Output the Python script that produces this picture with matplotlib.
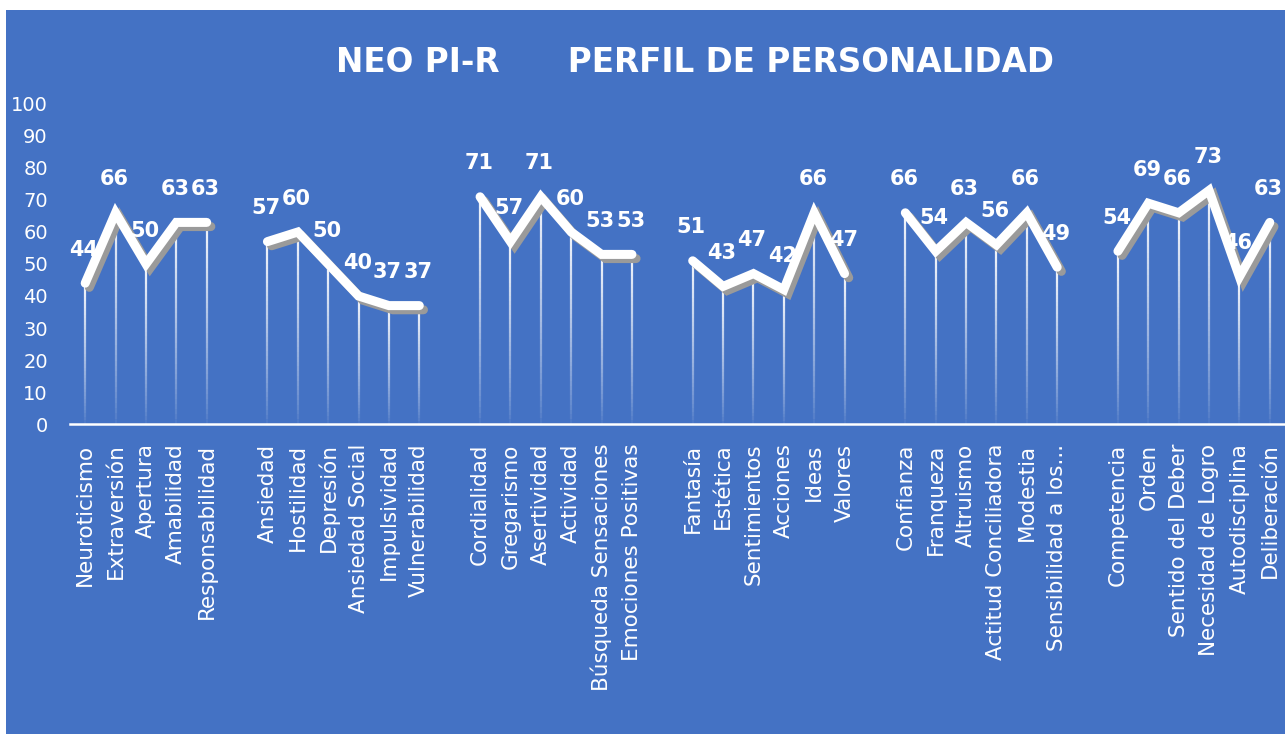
import numpy as np
import matplotlib
matplotlib.use("Agg")
import matplotlib.pyplot as plt
from matplotlib.patches import Rectangle
from matplotlib.collections import LineCollection
import matplotlib.patheffects as pe

# datos del perfil (None = hueco entre grupos)
categorias = ["Neuroticismo", "Extraversión", "Apertura", "Amabilidad", "Responsabilidad", "",
              "Ansiedad", "Hostilidad", "Depresión", "Ansiedad Social", "Impulsividad", "Vulnerabilidad", "",
              "Cordialidad", "Gregarismo", "Asertividad", "Actividad", "Búsqueda Sensaciones", "Emociones Positivas", "",
              "Fantasía", "Estética", "Sentimientos", "Acciones", "Ideas", "Valores", "",
              "Confianza", "Franqueza", "Altruismo", "Actitud Conciliadora", "Modestia", "Sensibilidad a los...", "",
              "Competencia", "Orden", "Sentido del Deber", "Necesidad de Logro", "Autodisciplina", "Deliberación"]
puntajes = [44, 66, 50, 63, 63, None,
            57, 60, 50, 40, 37, 37, None,
            71, 57, 71, 60, 53, 53, None,
            51, 43, 47, 42, 66, 47, None,
            66, 54, 63, 56, 66, 49, None,
            54, 69, 66, 73, 46, 63]
titulo = "NEO PI-R      PERFIL DE PERSONALIDAD"

azul = "#4472C4"
x = np.arange(len(categorias))
y = np.array([np.nan if v is None else v for v in puntajes], dtype=float)

fig = plt.figure(figsize=(12.85, 7.4), dpi=100)
fig.patch.set_facecolor("white")
fig.patches.append(Rectangle((6/1285, 6/740), 1 - 6/1285, 1 - 16/740,
                             transform=fig.transFigure, facecolor=azul,
                             edgecolor="none", zorder=-1))

ax = fig.add_axes([70/1285, 316/740, 1 - 70/1285, 320/740])
ax.set_zorder(2)
ax.set_facecolor("none")

# lineas de caida con degradado
segs, cols = [], []
n = 40
for xi, yi in zip(x, y):
    if np.isnan(yi):
        continue
    ys = np.linspace(0, yi, n + 1)
    for k in range(n):
        segs.append([(xi, ys[k]), (xi, ys[k + 1])])
        a = 0.05 + 0.9 * (k / n) ** 0.8
        cols.append((1, 1, 1, a))
ax.add_collection(LineCollection(segs, colors=cols, linewidths=1.6, zorder=2))

ax.plot(x, y, color="white", lw=6.5, solid_capstyle="round", solid_joinstyle="miter", zorder=3,
        path_effects=[pe.SimpleLineShadow(offset=(3, -3), shadow_color="#9a9a9a", alpha=1),
                      pe.Normal()])

for xi, yi in zip(x, y):
    if np.isnan(yi):
        continue
    ax.annotate(f"{int(yi)}", (xi, yi), xytext=(-1, 24), textcoords="offset points",
                ha="center", va="center", color="white", fontsize=15, fontweight="bold", zorder=4)

ax.set_xlim(-0.5, len(categorias) - 0.5)
ax.set_ylim(0, 100)
ax.set_yticks(range(0, 101, 10))
ax.set_xticks(x)
ax.set_xticklabels(categorias, rotation=90, fontsize=15.5, color="white")
ax.tick_params(axis="x", length=0, pad=14)
ax.tick_params(axis="y", length=0, pad=16, labelsize=14, labelcolor="white")
for s in ["top", "right", "left"]:
    ax.spines[s].set_visible(False)
ax.spines["bottom"].set_color("white")
ax.spines["bottom"].set_linewidth(1.8)

fig.text(695/1285, 1 - 62/740, titulo, ha="center", va="center", color="white",
         fontsize=23.5, fontweight="bold", zorder=3)

fig.savefig("out.png", dpi=100, facecolor=fig.get_facecolor())
